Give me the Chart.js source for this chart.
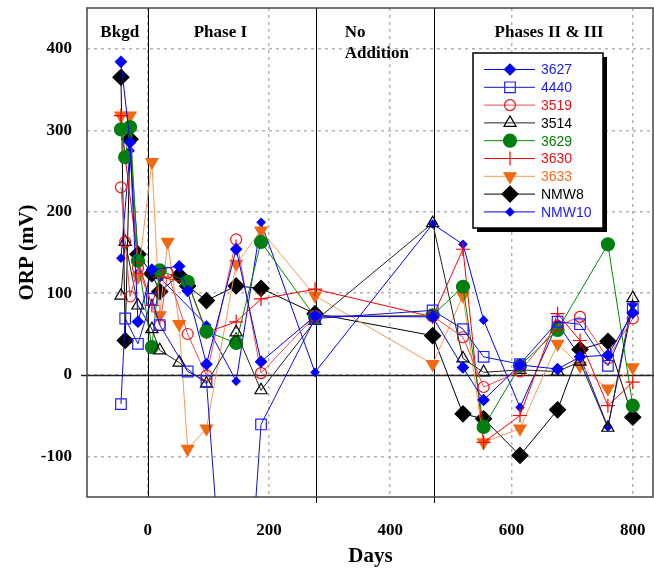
<!DOCTYPE html>
<html>
<head>
<meta charset="utf-8">
<script src="https://cdn.jsdelivr.net/npm/chart.js@4.4.1/dist/chart.umd.min.js"></script>
<style>
  html, body { margin: 0; padding: 0; background: #fff; overflow: hidden; }
</style>
</head>
<body>
<canvas id="chart" width="654" height="569"></canvas>
<script>
// axis ticks and phase boundaries (days)
const xTicks = [0, 200, 400, 600, 800]
const yTicks = [-100, 0, 100, 200, 300, 400]
const phaseLines = [0, 277, 472]
const phaseNames = [['Bkgd'], ['Phase I'], ['No', 'Addition'], ['Phases II & III']]
const phaseNameDays = [-46, 120, 325, 662]

// well data: sample day / ORP (mV)
const days3627 = [-44, -29, -16, 7, 52, 66, 97, 146, 187, 276, 470, 520, 554, 614, 676, 713, 759, 800]
const orp3627 = [384, 285, 65, 129, 133, 103, 13, 154, 16, 72, 71, 9, -31, 12, 7, 22, 24, 76]

const days4440 = [-44, -37, -16, 7, 20, 66, 97, 146, 187, 276, 470, 520, 554, 614, 676, 713, 759, 800]
const orp4440 = [-36, 69, 38, 93, 61, 4, -8, -500, -61, 69, 79, 56, 22, 13, 65, 62, 11, 81]

const days3519 = [-44, -37, -29, -16, 20, 33, 66, 97, 146, 187, 276, 470, 520, 554, 614, 676, 713, 759, 800]
const orp3519 = [230, 163, 96, 131, 61, 125, 50, -1, 166, 2, 72, 72, 46, -15, 4, 60, 71, 20, 69]

const days3514 = [-44, -37, -16, 7, 20, 52, 97, 146, 187, 276, 470, 520, 554, 614, 676, 713, 759, 800]
const orp3514 = [97, 163, 85, 56, 30, 15, -11, 52, -19, 66, 186, 20, 3, 6, 4, 16, -65, 94]

const days3629 = [-44, -37, -29, -16, 7, 20, 66, 97, 146, 187, 276, 470, 520, 554, 614, 676, 759, 800]
const orp3629 = [301, 267, 304, 140, 34, 128, 114, 53, 39, 163, 71, 73, 108, -64, 11, 55, 160, -38]

const days3630 = [-44, -37, -16, 7, 20, 66, 97, 146, 187, 276, 470, 520, 554, 614, 676, 713, 759, 800]
const orp3630 = [318, 267, 140, 85, 120, 113, 52, 65, 93, 105, 71, 154, -83, -50, 75, 42, -38, -9]

const days3633 = [-44, -29, -16, 7, 20, 33, 52, 66, 97, 146, 187, 276, 470, 520, 554, 614, 676, 713, 759, 800]
const orp3633 = [318, 318, 120, 261, 73, 163, 62, -91, -66, 136, 177, 97, 13, 97, -83, -66, 38, 11, -17, 9]

const daysNMW8 = [-44, -37, -29, -16, 7, 20, 52, 66, 97, 146, 187, 276, 470, 520, 554, 614, 676, 713, 759, 800]
const orpNMW8 = [365, 42, 289, 148, 124, 102, 122, 109, 91, 109, 106, 75, 48, -48, -54, -99, -43, 31, 41, -52]

const daysNMW10 = [-44, -29, -16, 20, 97, 146, 187, 276, 470, 520, 554, 614, 676, 713, 759, 800]
const orpNMW10 = [143, 275, 125, 119, 61, -8, 187, 3, 185, 160, 67, -40, 63, 22, -64, 86]

const toPoints = (days, vals) => days.map((d, i) => ({ x: d, y: vals[i] }))

const series = [
    { label: '3627', days: days3627, vals: orp3627, line: '#0000ff', text: '#1a1aff', fill: '#0000ff', stroke: '#0000ff', style: 'rectRot', r: 5.5 },
    { label: '4440', days: days4440, vals: orp4440, line: '#1010d0', text: '#1a1aff', fill: 'rgba(0,0,0,0)', stroke: '#2020ff', style: 'rect', r: 7.5 },
    { label: '3519', days: days3519, vals: orp3519, line: '#f04a4a', text: '#ee1111', fill: 'rgba(0,0,0,0)', stroke: '#ee1111', style: 'circle', r: 5.5 },
    { label: '3514', days: days3514, vals: orp3514, line: '#222', text: '#000', fill: 'rgba(0,0,0,0)', stroke: '#000', style: 'triangle', r: 7 },
    { label: '3629', days: days3629, vals: orp3629, line: '#008a00', text: '#008000', fill: '#007f10', stroke: '#007f10', style: 'circle', r: 6.5 },
    { label: '3630', days: days3630, vals: orp3630, line: '#ff0000', text: '#ee1111', fill: '#ff0000', stroke: '#ff0000', style: 'cross', r: 7 },
    { label: '3633', days: days3633, vals: orp3633, line: '#f59a55', text: '#f07020', fill: '#f06a10', stroke: '#f06a10', style: 'triangle', r: 7, rot: 180 },
    { label: 'NMW8', days: daysNMW8, vals: orpNMW8, line: '#000', text: '#000', fill: '#000', stroke: '#000', style: 'rectRot', r: 8 },
    { label: 'NMW10', days: daysNMW10, vals: orpNMW10, line: '#0000ff', text: '#1a1aff', fill: '#0000ff', stroke: '#0000ff', style: 'rectRot', r: 4 }
]

const serif = '"Liberation Serif", "Times New Roman", serif'

const decor = {
    id: 'decor',
    beforeDatasetsDraw(chart) {
        const { ctx, chartArea: a, scales: { x, y } } = chart

        ctx.save()
        ctx.strokeStyle = '#000'
        ctx.lineWidth = 1

        phaseLines.forEach((d, i) => {
            const px = Math.round(x.getPixelForValue(d)) + 0.5
            ctx.beginPath()
            ctx.moveTo(px, a.top)
            ctx.lineTo(px, a.bottom + (i ? 6 : 0))
            ctx.stroke()
        })

        const py = Math.round(y.getPixelForValue(0)) + 0.5
        ctx.strokeStyle = '#222'
        ctx.lineWidth = 1.5
        ctx.beginPath()
        ctx.moveTo(a.left - 6, py)
        ctx.lineTo(a.right, py)
        ctx.stroke()

        ctx.strokeStyle = '#444'
        ctx.lineWidth = 1.5
        ctx.strokeRect(a.left, a.top, a.right - a.left - 1, a.bottom - a.top)
        ctx.restore()
    },
    afterDraw(chart) {
        const { ctx, chartArea: a, scales: { x } } = chart

        ctx.save()
        ctx.fillStyle = '#000'
        ctx.font = `bold 17px ${serif}`
        ctx.textBaseline = 'middle'

        phaseNames.forEach((lines, i) => {
            const px = x.getPixelForValue(phaseNameDays[i])
            ctx.textAlign = lines.length > 1 ? 'left' : 'center'
            lines.forEach((t, j) => ctx.fillText(t, px, a.top + 25 + j * 21))
        })

        // boxed legend with drop shadow
        const lx = 473, ly = 53, lw = 130, lh = 175
        ctx.fillStyle = '#000'
        ctx.fillRect(lx + 4, ly + 4, lw, lh)
        ctx.fillStyle = '#fff'
        ctx.fillRect(lx, ly, lw, lh)
        ctx.strokeStyle = '#000'
        ctx.lineWidth = 1.5
        ctx.strokeRect(lx, ly, lw, lh)

        ctx.font = '14px "Liberation Sans", Arial, sans-serif'
        ctx.textAlign = 'left'

        series.forEach((s, i) => {
            const ry = ly + 16.5 + i * 17.8

            ctx.strokeStyle = s.line
            ctx.lineWidth = 1
            ctx.beginPath()
            ctx.moveTo(lx + 11, ry)
            ctx.lineTo(lx + 62, ry)
            ctx.stroke()

            ctx.fillStyle = s.fill
            ctx.strokeStyle = s.stroke
            ctx.lineWidth = 1.2
            Chart.helpers.drawPoint(ctx, { pointStyle: s.style, rotation: s.rot || 0, radius: s.r, borderWidth: 1.2 }, lx + 37, ry)

            ctx.fillStyle = s.text
            ctx.fillText(s.label, lx + 68, ry + 1)
        })

        ctx.restore()
    }
}

const noEdgePadding = scale => {
    scale.paddingLeft = 0
    scale.paddingRight = 0
    scale.paddingTop = 0
    scale.paddingBottom = 0
}

new Chart(document.getElementById('chart'), {
    type: 'line',
    data: {
        datasets: series.map(s => ({
            label: s.label,
            data: toPoints(s.days, s.vals),
            borderColor: s.line,
            borderWidth: 1,
            pointStyle: s.style,
            pointRadius: s.r,
            pointRotation: s.rot || 0,
            pointBackgroundColor: s.fill,
            pointBorderColor: s.stroke,
            pointBorderWidth: 1.2,
            tension: 0,
            fill: false
        }))
    },
    options: {
        responsive: false,
        animation: false,
        events: [],
        // the plot runs right up to the page edge, so no room is kept for end markers
        layout: { autoPadding: false, padding: { top: 8, right: 0, left: 0, bottom: 0 } },
        plugins: {
            legend: { display: false },
            tooltip: { enabled: false }
        },
        scales: {
            x: {
                type: 'linear',
                min: -100,
                max: 835,
                afterBuildTicks: scale => { scale.ticks = xTicks.map(v => ({ value: v })) },
                afterFit: scale => { scale.height = 72; noEdgePadding(scale) },
                grid: { color: '#b4b4b4', lineWidth: 1.5, drawTicks: true, tickLength: 23, tickColor: 'rgba(0,0,0,0)' },
                border: { display: false, dash: [3, 4] },
                ticks: { padding: 0, color: '#000', font: { family: serif, size: 17, weight: 'bold' } },
                title: { display: true, text: 'Days', color: '#000', padding: { top: 0, bottom: 0 }, font: { family: serif, size: 21, weight: 'bold' } }
            },
            y: {
                min: -150,
                max: 450,
                afterBuildTicks: scale => { scale.ticks = yTicks.map(v => ({ value: v })) },
                afterFit: scale => { scale.width = 87; noEdgePadding(scale) },
                grid: { color: '#b4b4b4', lineWidth: 1.5, drawTicks: false },
                border: { display: false, dash: [3, 4] },
                ticks: { padding: 15, color: '#000', font: { family: serif, size: 17, weight: 'bold' } },
                title: { display: true, text: 'ORP (mV)', color: '#000', padding: { top: 15, bottom: 0 }, font: { family: serif, size: 21, weight: 'bold' } }
            }
        }
    },
    plugins: [decor]
})
</script>
</body>
</html>
